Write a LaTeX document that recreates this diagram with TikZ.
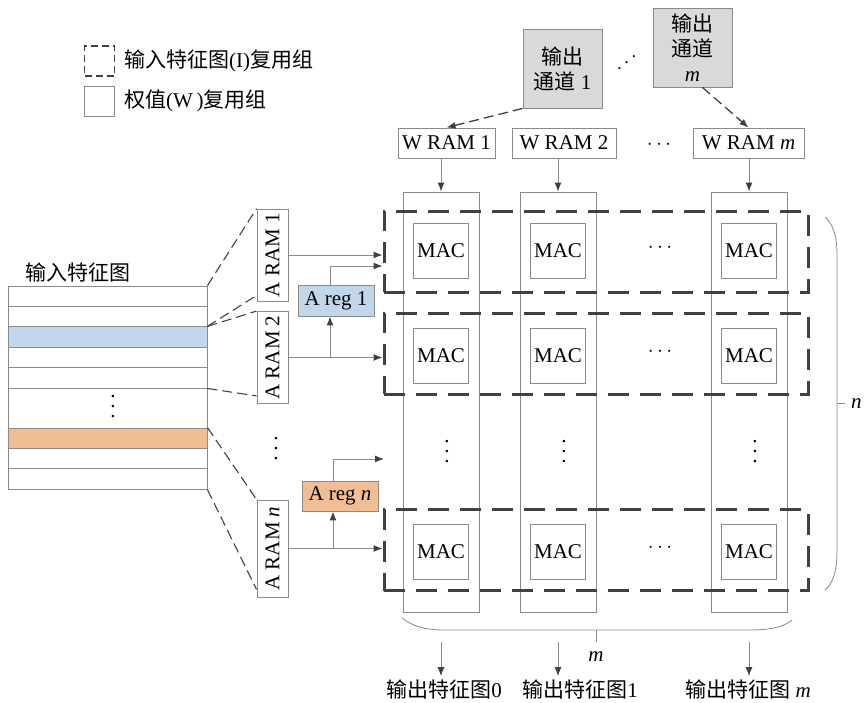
\documentclass[tikz,border=0pt]{standalone}
\usepackage{fontspec}
\usepackage{graphicx}
\setmainfont{Liberation Serif}
\newfontfamily\cjk{Noto Sans CJK SC}
\newcommand{\zh}[1]{{\cjk #1}}
\newcommand{\vdotsbig}{\vbox{\baselineskip=10pt\lineskiplimit=0pt\hbox{.}\hbox{.}\hbox{.}}}
\usetikzlibrary{arrows.meta,positioning,calc}
\definecolor{linegray}{HTML}{8A8A8A}
\definecolor{grpgray}{HTML}{404040}
\definecolor{chgray}{HTML}{D9D9D9}
\definecolor{regblue}{HTML}{C0D6EA}
\definecolor{regorange}{HTML}{F1BE94}

\begin{document}
\begin{tikzpicture}[x=1pt, y=-1pt, font=\fontsize{21}{25}\selectfont,
    box/.style={draw=linegray, line width=0.9pt, inner sep=0pt, align=center},
    chan/.style={box, fill=chgray, minimum width=79pt, minimum height=79pt},
    wram/.style={box, minimum height=30pt},
    macol/.style={box, minimum width=76pt, minimum height=420pt},
    mac/.style={box, minimum size=55pt},
    aram/.style={box, minimum width=31pt, minimum height=92pt},
    areg/.style={box, minimum width=76pt, minimum height=31pt},
    fmrow/.style={box, minimum width=199pt},
    group/.style={draw=grpgray, line width=3pt, dash pattern=on 21pt off 11pt,
      minimum width=424pt, minimum height=81pt, inner sep=0pt},
    link/.style={draw=grpgray, line width=1.1pt, dash pattern=on 10pt off 5pt},
    chlink/.style={link, line width=1.3pt, -{Latex[length=9pt,width=7pt]}},
    feed/.style={draw=linegray, line width=1pt, -{Latex[length=9pt,width=7pt,color=grpgray]}},
    brace/.style={draw=linegray, line width=0.8pt},
    txt/.style={inner sep=0pt, align=center},
  ]
  \useasboundingbox (0,0) rectangle (865,702);

  % legend
  \node[draw=grpgray, line width=1.8pt, dash pattern=on 7pt off 4pt,
    minimum size=30pt, inner sep=0pt] (legI) at (99.5,61) {};
  \node[txt, anchor=west] (legItxt) at (124,61) {\zh{输入特征图}(I)\zh{复用组}};
  \node[box, minimum size=30pt] (legW) at (99.5,101) {};
  \node[txt, anchor=west] (legWtxt) at (124,101) {\zh{权值}(W\,)\zh{复用组}};

  % output channels and weight RAMs
  \node[chan] (ch1) at (562.5,68.5) {\zh{输出}\\\zh{通道} 1};
  \node[chan] (chm) at (692.5,47.5) {\zh{输出}\\\zh{通道}\\\textit{m}};
  \node[txt, rotate=38] (chdots) at (627,63) {$\cdots$};
  \node[wram, minimum width=97pt] (wr1) at (446.5,143) {W RAM 1};
  \node[wram, minimum width=104pt] (wr2) at (564,143) {W RAM 2};
  \node[wram, minimum width=111pt] (wrm) at (748.5,143) {W RAM \textit{m}};
  \node[txt] (wrdots) at (659,145) {$\cdots$};
  \draw[chlink] (ch1.south west) -- (wr1.north);
  \draw[chlink] ([xshift=10pt]chm.south) -- (wrm.north);

  % MAC columns
  \foreach \x/\c in {441/1, 558/2, 749/m} {
    \node[macol] (col\c) at (\x,402) {};
    \node[mac] (mac1\c) at (\x,250.5) {MAC};
    \node[mac] (mac2\c) at (\x,355.5) {MAC};
    \node[mac] (macn\c) at (\x,551.5) {MAC};
    \node[txt] (vd\c) at (\x+6,452) {\vdotsbig};
    \draw[feed] (wr\c.south -| col\c.north) -- (col\c.north);
  }
  \node[txt] (rd1) at (660,248) {$\cdots$};
  \node[txt] (rd2) at (660,352) {$\cdots$};
  \node[txt] (rdn) at (660,548) {$\cdots$};

  % input reuse groups
  \node[group] (g1) at (596,251.5) {};
  \node[group] (g2) at (596,353.5) {};
  \node[group] (gn) at (596,550) {};

  % input feature map
  \node[txt] (fmlabel) at (78,272) {\zh{输入特征图}};
  \foreach \y/\f/\n in {296.2/white/1, 316.6/white/2, 337/regblue/3, 357.4/white/4,
      377.8/white/5, 438.2/regorange/6, 458.6/white/7, 479/white/8}
    \node[fmrow, minimum height=20.4pt, fill=\f] (fm\n) at (107.5,\y) {};
  \node[fmrow, minimum height=40pt] (fmgap) at (107.5,408) {};
  \node[txt] (fmdots) at (113,407) {\vdotsbig};

  % activation RAMs and registers
  \node[aram] (aram1) at (272.5,255) {\rotatebox{90}{A RAM 1}};
  \node[aram] (aram2) at (272.5,357.5) {\rotatebox{90}{A RAM 2}};
  \node[aram, minimum height=97pt] (aramn) at (272.5,548.5) {\rotatebox{90}{A RAM \textit{n}}};
  \node[txt] (aramdots) at (276,449) {\vdotsbig};
  \node[areg, fill=regblue] (areg1) at (336,300.5) {A reg 1};
  \node[areg, fill=regorange, minimum height=30pt] (aregn) at (340,496) {A reg \textit{n}};

  \draw[link] (fm1.north east) -- (aram1.north west);
  \draw[link] (fm3.north east) -- ([yshift=6pt]aram1.south west);
  \draw[link] (fm3.north east) -- (aram2.north west);
  \draw[link] (fm5.south east) -- ([yshift=8pt]aram2.south west);
  \draw[link] (fm6.north east) -- (aramn.north west);
  \draw[link] (fm8.south east) -- ([yshift=8pt]aramn.south west);

  \draw[feed] (aram1.east) -- (aram1.east -| g1.west);
  \coordinate (g1in) at ($(aram1.east -| g1.west)+(0,11)$);
  \draw[feed] (aram2.east) -- (aram2.east -| g2.west);
  \coordinate (tap1) at ([xshift=-6pt]areg1.south |- aram2.east);
  \draw[feed] (tap1) -- (tap1 |- areg1.south);
  \draw[feed] (tap1 |- areg1.north) |- (g1in);
  \draw[feed] (aramn.east) -- (aramn.east -| gn.west);
  \coordinate (tapn) at ([xshift=-7pt]aregn.south |- aramn.east);
  \coordinate (gapin) at (384,459);
  \draw[feed] (tapn) -- (tapn |- aregn.south);
  \draw[feed] (tapn |- aregn.north) |- (gapin);

  % braces
  \draw[brace] (825,217) .. controls (833,224) and (837,236) .. (837,255)
    -- (837,552) .. controls (837,571) and (833,583) .. (825,590);
  \draw[brace] (837,403.5) -- (845,403.5);
  \node[txt, anchor=west] (nlabel) at (851,404) {\textit{n}};
  \draw[brace] (402,618) .. controls (412,626) and (425,630) .. (445,630)
    -- (750,630) .. controls (770,630) and (784,627) .. (792,620);
  \draw[brace] (596,630) -- (596,642);
  \node[txt] (mlabel) at (596,657) {\textit{m}};

  % outputs
  \node[txt] (of1) at (444,689) {\zh{输出特征图}0};
  \node[txt] (of2) at (580,689) {\zh{输出特征图}1};
  \node[txt] (ofm) at (748,689) {\zh{输出特征图} \textit{m}};
  \draw[feed] ($(col1.south)+(0,30)$) -- ([yshift=3pt]col1.south |- of1.north);
  \draw[feed] ($(col2.south)+(0,30)$) -- ([yshift=3pt]col2.south |- of2.north);
  \draw[feed] ($(colm.south)+(0,30)$) -- ([yshift=3pt]colm.south |- ofm.north);
\end{tikzpicture}
\end{document}
